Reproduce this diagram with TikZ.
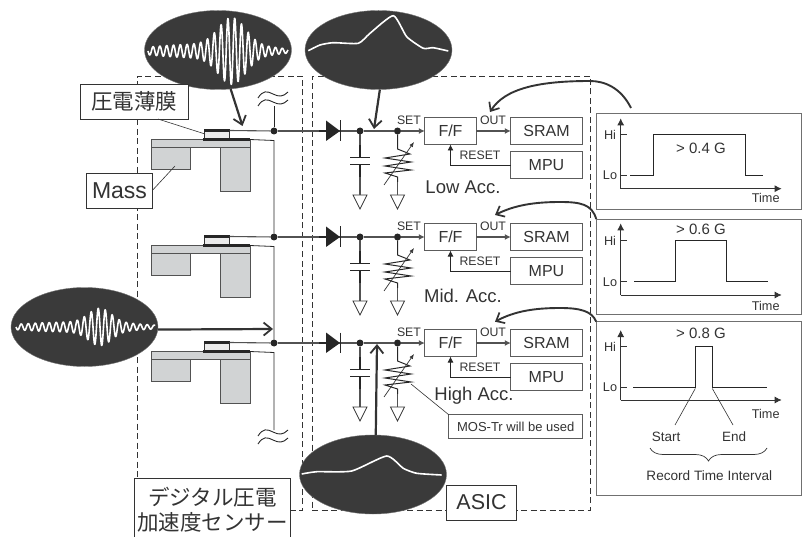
\documentclass[tikz,border=0pt]{standalone}
\usepackage{fontspec}
\setmainfont{Liberation Sans}
\newfontfamily\jpfont{Noto Sans CJK JP}
\usetikzlibrary{arrows.meta,shapes.geometric,decorations.pathreplacing}
\definecolor{ink}{HTML}{333333}
\definecolor{blob}{HTML}{3A3A3A}
\definecolor{steel}{HTML}{D1D3D4}
\newcommand{\sz}[1]{\fontsize{#1}{#1}\selectfont}
\tikzset{
  textbox/.style={draw=ink,fill=white,line width=0.9pt,inner sep=0pt,outer sep=0pt,text=ink,align=center},
  logicbox/.style={textbox,draw=ink!80,font=\sz{16},minimum height=27},
  smalltext/.style={text=ink,inner sep=0pt,font=\sz{12.3}},
  charttext/.style={text=ink,inner sep=0pt,font=\sz{12.7}},
  blobnode/.style={ellipse,fill=blob,draw=blob!70,line width=0.4pt,minimum width=147,minimum height=79,inner sep=0pt,outer sep=0pt},
  trace/.style={white,line width=1.6pt,line join=round},
  dashbox/.style={draw=ink,line width=0.8pt,dash pattern=on 6pt off 3.5pt},
  wire/.style={draw=ink!85,line width=1.1pt},
  thinwire/.style={draw=black!85,line width=0.8pt},
  dot/.style={circle,fill=black!85,inner sep=0pt,outer sep=0pt,minimum size=7},
  part/.style={draw=ink!85,fill=steel,line width=0.8pt},
  metal/.style={fill=black!85,inner sep=0pt,outer sep=0pt},
  bigarrow/.style={draw=ink,line width=2.2pt,-{Straight Barb[length=8pt,width=13pt,line width=1.8pt]}},
  curvearrow/.style={draw=ink,line width=1.9pt,-{Straight Barb[length=7pt,width=12pt,line width=1.7pt]}},
  smallarrow/.style={-{Latex[length=6pt,width=6pt]}},
  leader/.style={draw=ink,line width=0.6pt},
  panelbox/.style={draw=ink!70,line width=0.9pt,inner sep=0pt,outer sep=0pt,minimum width=205},
  axis/.style={draw=ink,line width=0.9pt},
  signal/.style={draw=black!85,line width=0.9pt},
  breakmark/.pic={
    \draw[black!85,line width=0.9pt] (-15,4) .. controls (-10,-4) and (-6,-3) .. (0,0) .. controls (6,3) and (10,3) .. (15,-2);
    \draw[black!85,line width=0.9pt] (-15,12) .. controls (-10,4) and (-6,5) .. (0,8) .. controls (6,11) and (10,11) .. (15,6);
  }
}
\begin{document}
\begin{tikzpicture}[x=1pt,y=-1pt]
\useasboundingbox (0,0) rectangle (805,537);

% dashed frames
\node[dashbox,minimum width=165,minimum height=434,inner sep=0pt] (sensorframe) at (220,293) {};
\node[dashbox,minimum width=278,minimum height=434,inner sep=0pt] (asicframe) at (451,293) {};

% three channels
\foreach \ch/\off in {1/0,2/106,3/212}{
\begin{scope}[shift={(0,\off)}]
  \draw[part] (151,139.5) rectangle (250.3,147.7);
  \draw[part] (151,147.7) rectangle (190.7,169.3);
  \draw[part] (220.3,147.7) rectangle (250.3,191.3);
  \node[draw=ink,fill=black!8,line width=0.5pt,minimum width=25,minimum height=7,inner sep=0pt,outer sep=0pt] (film\ch) at (216.5,135) {};
  \node[metal,minimum width=26,minimum height=3] (top\ch) at (216.5,130.5) {};
  \node[metal,minimum width=47,minimum height=3] (bottom\ch) at (226.5,139.5) {};

  \node[dot] (joint\ch) at (274,131) {};
  \node[dot] (nodea\ch) at (360,131) {};
  \node[dot] (nodeb\ch) at (397.5,131) {};
  \node[logicbox,minimum width=51.5] (ff\ch) at (450.5,131) {F/F};
  \node[logicbox,minimum width=71.5] (sram\ch) at (546.5,131) {SRAM};
  \node[logicbox,minimum width=71.5] (mpu\ch) at (546.5,165) {MPU};
  \node[smalltext] (set\ch) at (409,120.5) {SET};
  \node[smalltext] (out\ch) at (493,120.5) {OUT};
  \node[smalltext] (reset\ch) at (480,155.5) {RESET};

  \draw[wire] (top\ch.east) -- (joint\ch);
  \draw[wire] (joint\ch) -- (nodea\ch);
  \draw[wire] (nodea\ch) -- (nodeb\ch);
  \draw[wire,smallarrow] (nodeb\ch) -- (ff\ch.west);
  \draw[wire,smallarrow] (ff\ch.east) -- (sram\ch.west);
  \draw[thinwire,smallarrow] (mpu\ch.west) -| (ff\ch.south);

  % diode
  \fill[black!85] (326,120.5) -- (326,141) -- (340,131) -- cycle;
  \draw[black!85,line width=1.4pt] (340.7,120.5) -- (340.7,141);
  \draw[black!85,line width=1.6pt] (319,131) -- (326,131);

  % capacitor
  \coordinate (gnda\ch) at (360,195);
  \coordinate (gndb\ch) at (397.5,195);
  \draw[black!85,line width=1.6pt] (360,145) -- (360,157.5);
  \draw[black!85,line width=1.6pt] (360,164.5) -- (360,177);
  \draw[black!85,line width=1.3pt] (350,157.5) -- (370,157.5);
  \draw[black!85,line width=1.3pt] (350,164.5) -- (370,164.5);
  \draw[wire] (nodea\ch) -- (360,145);
  \draw[wire] (360,177) -- (gnda\ch);
  \draw[draw=ink,line width=0.7pt,fill=white] (353,195) -- (367,195) -- (360,209) -- cycle;

  % variable resistor
  \draw[black!85,line width=1pt] (nodeb\ch) -- (397.5,149) -- (410,154) -- (385,158) -- (411,162) -- (385,166) -- (411,170) -- (385,173) -- (397.5,177) -- (397.5,182);
  \draw[wire] (397.5,182) -- (gndb\ch);
  \draw[draw=ink,line width=0.7pt,fill=white] (390.5,195) -- (404.5,195) -- (397.5,209) -- cycle;
  \draw[ink,line width=0.7pt,-{Latex[length=5pt,width=4pt]}] (384,185) -- (414,142);
\end{scope}
}

% sensor return lines
\coordinate (breaka) at (274,106);
\coordinate (breakb) at (274,430);
\coordinate (retb1) at (274,140.5);
\coordinate (retb2) at (274,246.5);
\coordinate (retb3) at (274,352.5);
\draw[thinwire] (breaka) -- (joint1);
\draw[thinwire] (bottom1.east) -- (retb1) -- (joint2);
\draw[thinwire] (bottom2.east) -- (retb2) -- (joint3);
\draw[thinwire] (bottom3.east) -- (retb3) -- (breakb);
\pic at (273,94) {breakmark};
\pic at (273,432) {breakmark};

% channel names
\node[text=ink,inner sep=0pt,font=\sz{18.5}] (lowname) at (463,187) {Low Acc.};
\node[text=ink,inner sep=0pt,font=\sz{18.5}] (midname) at (463,296) {Mid. Acc.};
\node[text=ink,inner sep=0pt,font=\sz{18.5}] (highname) at (474,396) {High Acc.};

% labels on the left
\node[blobnode] (burst) at (218,50) {};
\draw[trace,samples=420,domain=148:288,smooth] plot (\x,{51+(2+5*(1-((\x-210)/78)^2)+27*exp(-((\x-232)/19)^2))*sin((\x-148)/6.8*360)});
\node[blobnode] (rect) at (378.5,50) {};
\draw[trace,smooth,tension=0.35] plot coordinates {(308.3,50.7) (320,45) (333.3,42.7) (358.3,43.3) (370,33.3) (393.3,15.7) (406.7,36.7) (423.3,48.3) (433,47.7) (448.3,51)};
\node[blobnode] (burstb) at (84.5,327) {};
\draw[trace,samples=420,domain=16:155,smooth] plot (\x,{327+(1.5+3.5*(1-((\x-80)/78)^2)+14*exp(-((\x-100)/16)^2))*sin((\x-16)/7*360)});
\node[blobnode] (rectb) at (373,474.5) {};
\draw[trace,smooth,tension=0.35] plot coordinates {(301.7,474) (316.7,471.7) (351.7,471) (386.7,456) (403.3,468.3) (416.7,473.3) (441.7,475)};

\coordinate (bursttip) at (242.5,126);
\coordinate (recttip) at (374,129);
\coordinate (burstbtip) at (273,329);
\coordinate (rectbtip) at (377,344);
\draw[bigarrow] (burst.-72) -- (bursttip);
\draw[bigarrow] (rect.-88) -- (recttip);
\draw[bigarrow] (burstb.-2) -- (burstbtip);
\draw[bigarrow] (rectb.86) -- (rectbtip);

\node[textbox,minimum width=108.7,minimum height=35,font=\jpfont\sz{21.5}] (filmname) at (134.3,101.5) {圧電薄膜};
\node[textbox,minimum width=65.6,minimum height=35,font=\sz{23}] (massname) at (119.5,190.5) {Mass};
\coordinate (filmend) at (205,134);
\coordinate (massend) at (175,166);
\draw[leader] (158,119) -- (filmend);
\draw[leader] (massname.east) -- (massend);

\node[textbox,minimum width=156.4,minimum height=70,anchor=north west] (sensorname) at (134.3,478.3) {};
\node[text=ink,inner sep=0pt,font=\jpfont\sz{21.5}] (sensorlinea) at (212.5,497) {デジタル圧電};
\node[text=ink,inner sep=0pt,font=\jpfont\sz{21.5}] (sensorlineb) at (212.5,522) {加速度センサー};
\node[textbox,minimum width=69.6,minimum height=35,font=\sz{21.5}] (asicname) at (481.5,502.5) {ASIC};
\node[textbox,draw=ink!80,minimum width=134,minimum height=23.6,font=\sz{13}] (mosname) at (515.7,426.5) {MOS-Tr will be used};
\coordinate (mosend) at (411,384);
\draw[leader] (mosname.north west) -- (mosend);

% panels
\node[panelbox,minimum height=95.6] (panel1) at (698.7,161.5) {};
\node[panelbox,minimum height=95.3] (panel2) at (698.7,266.7) {};
\node[panelbox,minimum height=174] (panel3) at (698.7,408.7) {};

\foreach \p/\ya/\yb/\yh/\yl/\xa/\xb/\xc/\xd/\gy/\ty/\gval in {
  1/188.7/118.3/134/175.3/630/653.3/745.7/763.3/148/198/0.4,
  2/295/223.3/240/281.7/634.3/675.7/726.7/767.7/229.3/305.7/0.6,
  3/400/330/346/387.3/633.3/695.3/712.3/766.7/333.3/414.3/0.8}{
  \coordinate (orig\p) at (620.7,\ya);
  \draw[axis,-{Latex[length=7pt,width=7pt]}] (orig\p) -- (620.7,\yb);
  \draw[axis,-{Latex[length=7pt,width=7pt]}] (orig\p) -- (781.7,\ya);
  \draw[axis] (620.7,\yh) -- ++(6.5,0);
  \draw[axis] (620.7,\yl) -- ++(6.5,0);
  \draw[signal] (\xa,\yl) -- (\xb,\yl) -- (\xb,\yh) -- (\xc,\yh) -- (\xc,\yl) -- (\xd,\yl);
  \node[charttext] (hi\p) at (610,\yh+1) {Hi};
  \node[charttext] (lo\p) at (610,\yl) {Lo};
  \node[charttext] (time\p) at (765.7,\ty) {Time};
  \node[text=ink,inner sep=0pt,font=\sz{15}] (gval\p) at (701,\gy) {> \gval\ G};
}

\node[text=ink,inner sep=0pt,font=\sz{13.5}] (startname) at (666,436.7) {Start};
\node[text=ink,inner sep=0pt,font=\sz{13.5}] (endname) at (734,436.7) {End};
\coordinate (starta) at (695.3,388.5);
\coordinate (enda) at (712.3,388.5);
\draw[leader] (starta) -- (675,425);
\draw[leader] (enda) -- (733,425);
\draw[ink,line width=0.7pt,decorate,decoration={brace,mirror,amplitude=13pt}] (650,448) -- (767,448);
\node[text=ink,inner sep=0pt,font=\sz{13.6}] (intervalname) at (709.3,475.7) {Record Time Interval};

% curved feedback arrows
\coordinate (taila) at (631,108);
\coordinate (tipa) at (490,112);
\coordinate (tipb) at (495,215);
\coordinate (tipc) at (495,321.7);
\draw[curvearrow] (taila) .. controls (621,88) and (605,81) .. (590,81) .. controls (540,81) and (505,88) .. (tipa);
\draw[curvearrow] (panel2.north west) .. controls (592,204) and (580,202) .. (560,202) .. controls (535,202) and (515,205) .. (tipb);
\draw[curvearrow] (panel3.north west) .. controls (592,311) and (580,308) .. (560,308) .. controls (535,308) and (515,311) .. (tipc);
\end{tikzpicture}
\end{document}
